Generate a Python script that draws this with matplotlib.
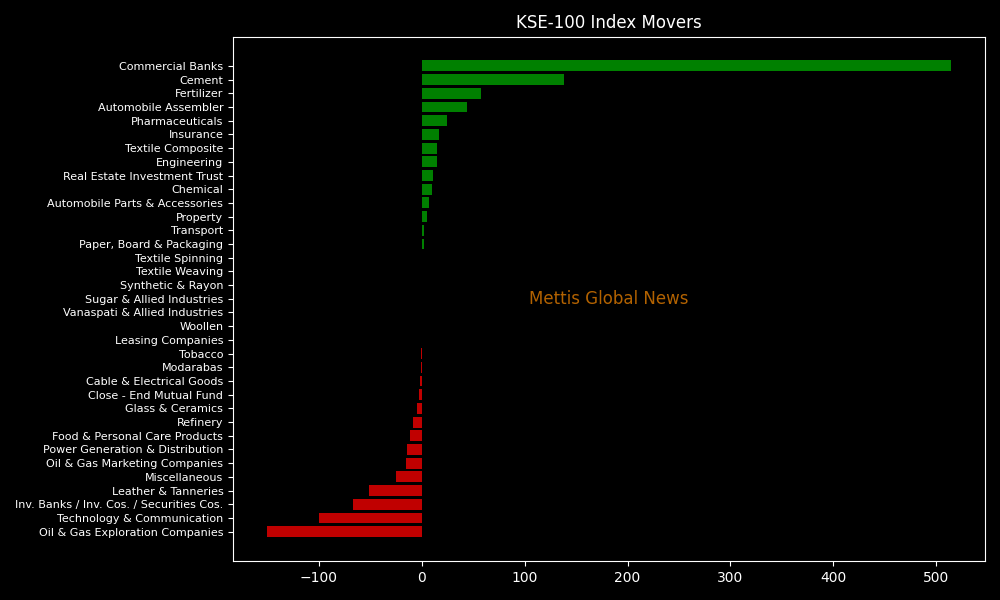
import matplotlib
matplotlib.use("Agg")
import matplotlib.pyplot as plt

SECTORS = [
    "Commercial Banks", "Cement", "Fertilizer", "Automobile Assembler",
    "Pharmaceuticals", "Insurance", "Textile Composite", "Engineering",
    "Real Estate Investment Trust", "Chemical", "Automobile Parts & Accessories",
    "Property", "Transport", "Paper, Board & Packaging", "Textile Spinning",
    "Textile Weaving", "Synthetic & Rayon", "Sugar & Allied Industries",
    "Vanaspati & Allied Industries", "Woollen", "Leasing Companies", "Tobacco",
    "Modarabas", "Cable & Electrical Goods", "Close - End Mutual Fund",
    "Glass & Ceramics", "Refinery", "Food & Personal Care Products",
    "Power Generation & Distribution", "Oil & Gas Marketing Companies",
    "Miscellaneous", "Leather & Tanneries",
    "Inv. Banks / Inv. Cos. / Securities Cos.", "Technology & Communication",
    "Oil & Gas Exploration Companies",
]
POINTS = [
    514, 138, 58, 43.7, 24.3, 16.5, 14.5, 14.5, 10.7, 9.7, 6.8, 4.9, 2.0, 2.0,
    0, 0, 0, 0, 0, 0, 0, -0.6, -0.6, -2.0, -3.0, -4.7, -8.7, -11.7, -14.5,
    -15.0, -24.5, -51.0, -67.0, -100.0, -150.0,
]

plt.rcParams["figure.facecolor"] = "black"
plt.rcParams["axes.facecolor"] = "black"

fig, ax = plt.subplots(figsize=(10, 6), dpi=100)
fig.subplots_adjust(left=0.233, right=0.985, top=0.939, bottom=0.065)

colors = ["#008000" if v >= 0 else "#c00000" for v in POINTS]
ax.barh(SECTORS, POINTS, color=colors)
ax.invert_yaxis()

ax.set_title("KSE-100 Index Movers", color="white", fontsize=12)
ax.tick_params(axis="y", colors="white", labelsize=8)
ax.tick_params(axis="x", colors="white", labelsize=10)
for spine in ax.spines.values():
    spine.set_color("white")

ax.text(0.5, 0.5, "Mettis Global News", transform=ax.transAxes,
        ha="center", va="center", fontsize=12, color="darkorange", alpha=0.7)

fig.savefig("out.png", facecolor="black")
